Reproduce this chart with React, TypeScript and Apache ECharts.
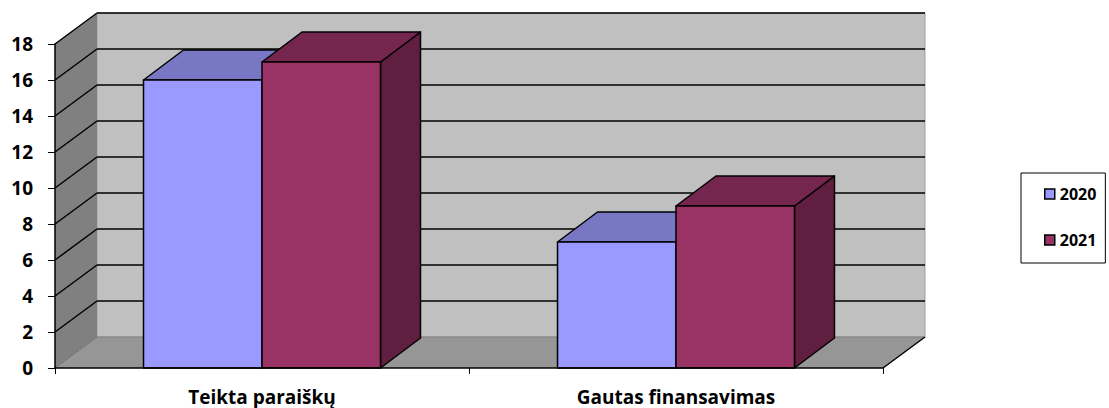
import React, { useEffect, useRef } from "react";
import * as echarts from "echarts";

const CATEGORIES = ["Teikta paraiškų", "Gautas finansavimas"];
const SERIES_NAMES = ["2020", "2021"];
const VALUES_2020 = [16, 7];
const VALUES_2021 = [17, 9];
const Y_TICKS = [0, 2, 4, 6, 8, 10, 12, 14, 16, 18];

const WALL_DX = 42;
const WALL_DY = 31;
const BAR_DX = 40;
const BAR_DY = 30;
const BAR_FRAC = 0.2862;
const FONT = "'Open Sans', Lato, sans-serif";

const COLORS = [
  { front: "#9999ff", top: "#7777c4", side: "#6666aa" },
  { front: "#993366", top: "#74264e", side: "#601f40" },
];

function wallsRender(params: any, api: any) {
  const cs = params.coordSys;
  const x = cs.x, y = cs.y, w = cs.width, h = cs.height;
  const children: any[] = [];
  children.push({
    type: "rect",
    shape: { x: x + WALL_DX, y: y - WALL_DY, width: w, height: h },
    style: { fill: "#c0c0c0", stroke: "#a0a0a0", lineWidth: 1 },
  });
  children.push({
    type: "polygon",
    shape: { points: [[x, y], [x + WALL_DX, y - WALL_DY], [x + WALL_DX, y + h - WALL_DY], [x, y + h]] },
    style: { fill: "#808080" },
  });
  children.push({
    type: "polygon",
    shape: { points: [[x, y + h], [x + w, y + h], [x + w + WALL_DX, y + h - WALL_DY], [x + WALL_DX, y + h - WALL_DY]] },
    style: { fill: "#969696" },
  });
  children.push({
    type: "line",
    shape: { x1: x + WALL_DX, y1: y + h - WALL_DY, x2: x + w + WALL_DX, y2: y + h - WALL_DY },
    style: { stroke: "#808080", lineWidth: 1 },
  });
  children.push({
    type: "line",
    shape: { x1: x, y1: y + h, x2: x + WALL_DX, y2: y + h - WALL_DY },
    style: { stroke: "#707070", lineWidth: 1 },
  });
  children.push({
    type: "line",
    shape: { x1: x + w, y1: y + h, x2: x + w + WALL_DX, y2: y + h - WALL_DY },
    style: { stroke: "#000", lineWidth: 1.5 },
  });
  Y_TICKS.forEach((v) => {
    if (v === 0) return;
    const yy = api.coord([0, v])[1];
    children.push({
      type: "line",
      shape: { x1: x, y1: yy, x2: x + WALL_DX, y2: yy - WALL_DY },
      style: { stroke: "#000", lineWidth: 1.5 },
    });
    children.push({
      type: "line",
      shape: { x1: x + WALL_DX, y1: yy - WALL_DY, x2: x + w + WALL_DX, y2: yy - WALL_DY },
      style: { stroke: "#000", lineWidth: 1.5 },
    });
  });
  return { type: "group", children };
}

function makeBarRender(idx: number) {
  const c = COLORS[idx];
  return (params: any, api: any) => {
    const cat = api.value(0);
    const v = api.value(1);
    const base = api.coord([cat, 0]);
    const tip = api.coord([cat, v]);
    const band = api.size([1, 0])[0];
    const bw = band * BAR_FRAC;
    const x0 = base[0] - bw + idx * bw;
    const x1 = x0 + bw;
    const yt = tip[1];
    const yb = base[1];
    const st = { stroke: "#000", lineWidth: 1.5, lineJoin: "round" };
    return {
      type: "group",
      children: [
        {
          type: "polygon",
          shape: { points: [[x1, yt], [x1 + BAR_DX, yt - BAR_DY], [x1 + BAR_DX, yb - BAR_DY], [x1, yb]] },
          style: { fill: c.side, ...st },
        },
        {
          type: "polygon",
          shape: { points: [[x0, yt], [x1, yt], [x1 + BAR_DX, yt - BAR_DY], [x0 + BAR_DX, yt - BAR_DY]] },
          style: { fill: c.top, ...st },
        },
        {
          type: "rect",
          shape: { x: x0, y: yt, width: bw, height: yb - yt },
          style: { fill: c.front, ...st },
        },
      ],
    };
  };
}

export default function App() {
  const ref = useRef<HTMLDivElement>(null);
  useEffect(() => {
    document.body.style.margin = "0";
    if (!ref.current) return;
    const chart = echarts.init(ref.current, null, { renderer: "svg" });
    const seriesVals = [VALUES_2020, VALUES_2021];
    chart.setOption({
      animation: false,
      backgroundColor: "#fff",
      grid: { left: 55, right: 226, top: 44, bottom: 40, outerBoundsMode: "none", containLabel: false },
      legend: {
        orient: "vertical",
        left: 1021,
        top: 173,
        width: 86,
        padding: [13, 9, 15, 23],
        itemGap: 30,
        itemWidth: 10,
        itemHeight: 10,
        icon: "rect",
        borderColor: "#000",
        borderWidth: 1,
        itemStyle: { borderColor: "#000", borderWidth: 1.5 },
        textStyle: { fontFamily: FONT, fontWeight: 700, fontSize: 16, color: "#000" },
        data: SERIES_NAMES,
      },
      xAxis: {
        type: "category",
        data: CATEGORIES,
        z: 10,
        axisLine: { lineStyle: { color: "#000", width: 1.5 } },
        axisTick: { show: true, length: 6, lineStyle: { color: "#000" } },
        axisLabel: { margin: 19, fontFamily: FONT, fontWeight: 700, fontSize: 19, color: "#000" },
        splitLine: { show: false },
      },
      yAxis: {
        type: "value",
        min: 0,
        max: 18,
        interval: 2,
        z: 10,
        axisLine: { show: true, lineStyle: { color: "#000", width: 1.5 } },
        axisTick: { show: true, length: 7, lineStyle: { color: "#000" } },
        axisLabel: { margin: 22, fontFamily: FONT, fontWeight: 700, fontSize: 19, color: "#000" },
        splitLine: { show: false },
      },
      series: [
        {
          type: "custom",
          name: "walls",
          renderItem: wallsRender,
          data: [[0, 0]],
          encode: { x: 0, y: 1 },
          silent: true,
          z: 1,
        },
        ...SERIES_NAMES.map((name, i) => ({
          type: "custom",
          name,
          renderItem: makeBarRender(i),
          itemStyle: { color: COLORS[i].front },
          data: seriesVals[i].map((v, k) => [k, v]),
          encode: { x: 0, y: 1 },
          z: 2 + i,
        })),
      ],
    });
    return () => chart.dispose();
  }, []);
  return <div ref={ref} style={{ width: 1109, height: 408 }} />;
}
